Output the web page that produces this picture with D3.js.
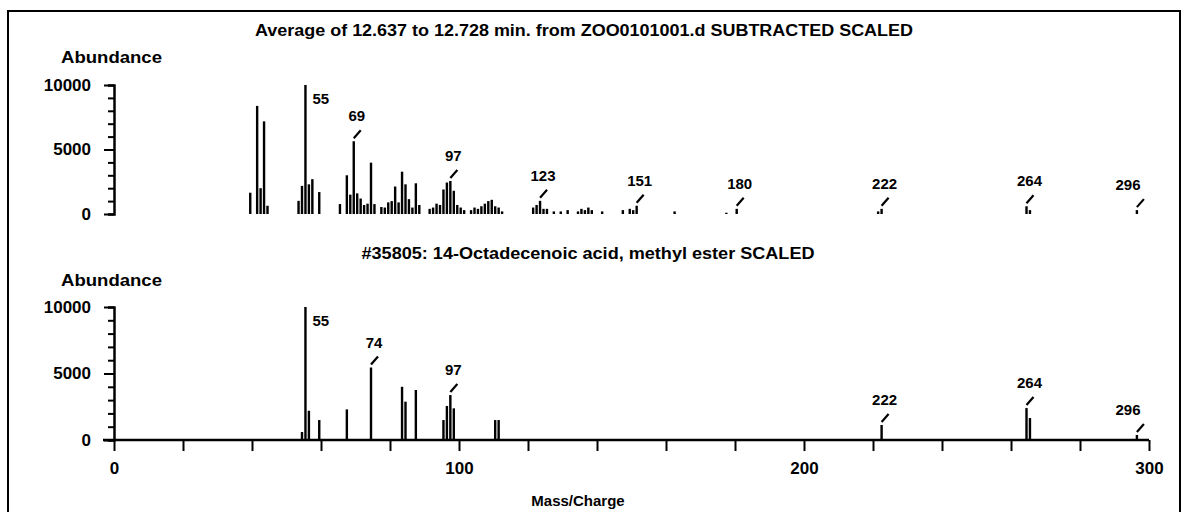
<!DOCTYPE html>
<html>
<head>
<meta charset="utf-8">
<script src="https://cdn.jsdelivr.net/npm/d3@7"></script>
<style>
  body { margin: 0; background: #fff; }
  svg text { font-family: "Liberation Sans Narrow", "Liberation Sans", Arial, sans-serif; font-weight: bold; fill: #000; }
</style>
</head>
<body>
<svg id="chart" width="1185" height="512"></svg>
<script>
// 위: 시료 스펙트럼 (평균, 배경 차감)
const sampleMz = [39, 41, 42, 43, 44, 53, 54, 55, 56, 57, 59, 65, 67, 68, 69, 70, 71, 72, 73, 74, 75, 77, 78, 79, 80,
  81, 82, 83, 84, 85, 86, 87, 88, 91, 92, 93, 94, 95, 96, 97, 98, 99, 100, 101, 103, 104, 105, 106, 107, 108, 109,
  110, 111, 112, 121, 122, 123, 124, 125, 127, 129, 131, 134, 135, 136, 137, 138, 141, 147, 149, 150, 151, 162, 177,
  180, 221, 222, 264, 265, 296]
const sampleAbund = [1650, 8380, 2000, 7180, 640, 1020, 2180, 10000, 2300, 2700, 1700, 770, 3000, 1500, 5640, 1600, 1200, 700, 800, 3980, 770, 540, 500, 900, 1000,
  2130, 900, 3280, 2300, 1150, 500, 2380, 700, 400, 500, 800, 700, 1900, 2440, 2560, 1800, 700, 500, 300, 300, 500, 400, 600, 800, 1000, 1100,
  600, 500, 200, 500, 700, 1020, 400, 400, 200, 200, 300, 200, 400, 300, 500, 300, 200, 300, 400, 300, 640, 200, 100,
  400, 200, 400, 600, 300, 300]
const sampleLabels = [55, 69, 97, 123, 151, 180, 222, 264, 296]

// 아래: 라이브러리 스펙트럼
const libMz = [54, 55, 56, 59, 67, 74, 83, 84, 87, 95, 96, 97, 98, 110, 111, 222, 264, 265, 296]
const libAbund = [600, 10000, 2200, 1500, 2300, 5450, 4000, 2880, 3760, 1500, 2560, 3380, 2380, 1500, 1500, 1130, 2400, 1650, 380]
const libLabels = [55, 74, 97, 222, 264, 296]

const yTickLabels = [0, 5000, 10000]
const xTickLabels = [0, 100, 200, 300]
const title1 = "Average of 12.637 to 12.728 min. from ZOO0101001.d SUBTRACTED SCALED"
const title2 = "#35805: 14-Octadecenoic acid, methyl ester SCALED"

let svg = d3.select("#chart")

// 테두리
svg.append("rect").attr("x", 8).attr("y", 11).attr("width", 1172).attr("height", 520)
  .attr("fill", "none").attr("stroke", "#000").attr("stroke-width", 2)

let x = d3.scaleLinear().domain([0, 300]).range([114, 1149])
let yTop = d3.scaleLinear().domain([0, 10000]).range([214, 85])
let yBot = d3.scaleLinear().domain([0, 10000]).range([440, 307])

function drawYAxis(y) {
  let ax = svg.append("g").attr("transform", "translate(" + x(0) + ",0)")
    .call(d3.axisLeft(y).tickValues(d3.range(0, 10001, 1000)).tickSizeOuter(0).tickSize(6)
      .tickFormat(d => yTickLabels.includes(d) ? d : ""))
  ax.select(".domain").attr("stroke-width", 2.5)
  ax.selectAll(".tick line").attr("stroke-width", 2)
    .attr("x2", d => yTickLabels.includes(d) ? -10 : -6)
  ax.selectAll(".tick text").attr("x", -23).attr("font-size", 17)
    .style("font-family", null)
  ax.attr("font-family", null)
}

function drawPeaks(mz, ab, labels, y) {
  let g = svg.append("g")
  g.selectAll("rect").data(mz).enter().append("rect")
    .attr("x", (d) => x(d) + 0.5)
    .attr("width", 2.4)
    .attr("y", (d, i) => y(ab[i]))
    .attr("height", (d, i) => y(0) - y(ab[i]))
    .attr("fill", "#000")

  let top = d3.max(ab)
  labels.forEach(function(m) {
    let a = ab[mz.indexOf(m)]
    let px = x(m) + 1.7
    if (a === top) {
      g.append("text").attr("x", px + 7).attr("y", y(a) + 19)
        .attr("font-size", 15).text(m)
      return
    }
    g.append("line")
      .attr("x1", px).attr("y1", y(a) - 3)
      .attr("x2", px + 7).attr("y2", y(a) - 11)
      .attr("stroke", "#000").attr("stroke-width", 2.2)
    g.append("text").attr("x", Math.min(px + 3, 1128)).attr("y", y(a) - 20)
      .attr("text-anchor", "middle").attr("font-size", 15).text(m)
  })
}

// 제목
svg.append("text").attr("x", 584).attr("y", 36).attr("text-anchor", "middle")
  .attr("font-size", 16).attr("textLength", 658).attr("lengthAdjust", "spacingAndGlyphs").text(title1)
svg.append("text").attr("x", 588).attr("y", 259).attr("text-anchor", "middle")
  .attr("font-size", 16).attr("textLength", 453).attr("lengthAdjust", "spacingAndGlyphs").text(title2)

svg.append("text").attr("x", 61).attr("y", 63).attr("font-size", 17)
  .attr("textLength", 101).attr("lengthAdjust", "spacingAndGlyphs").text("Abundance")
svg.append("text").attr("x", 61).attr("y", 286).attr("font-size", 17)
  .attr("textLength", 101).attr("lengthAdjust", "spacingAndGlyphs").text("Abundance")

drawYAxis(yTop)
drawYAxis(yBot)

// x축 (아래 그래프만)
svg.append("line").attr("x1", x(0) - 11).attr("x2", x(300)).attr("y1", yBot(0)).attr("y2", yBot(0))
  .attr("stroke", "#000").attr("stroke-width", 2.5)
let xa = svg.append("g").attr("transform", "translate(0," + yBot(0) + ")")
  .call(d3.axisBottom(x).tickValues(d3.range(0, 301, 20)).tickSizeOuter(0).tickSize(11)
    .tickFormat(d => xTickLabels.includes(d) ? d : ""))
xa.select(".domain").remove()
xa.selectAll(".tick line").attr("stroke-width", 2)
xa.selectAll(".tick text").attr("y", 22).attr("font-size", 17)
xa.attr("font-family", null)

svg.append("text").attr("x", 578).attr("y", 506).attr("text-anchor", "middle")
  .attr("font-size", 15).text("Mass/Charge")

drawPeaks(sampleMz, sampleAbund, sampleLabels, yTop)
drawPeaks(libMz, libAbund, libLabels, yBot)
</script>
</body>
</html>
